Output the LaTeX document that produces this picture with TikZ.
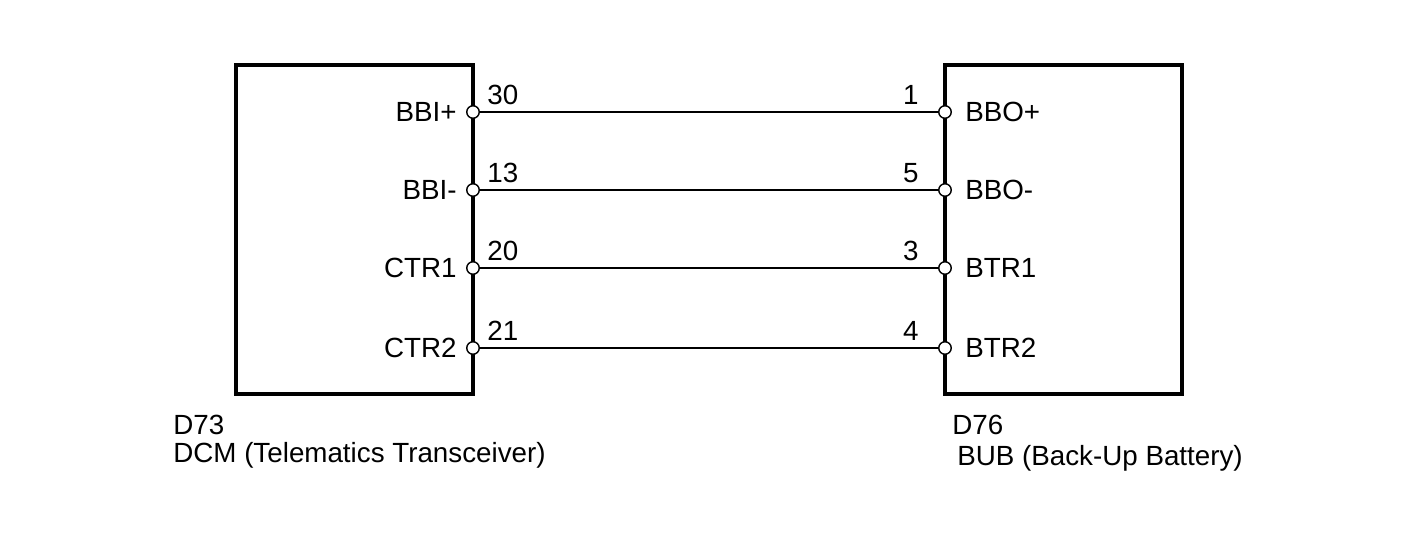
\documentclass[tikz,border=0pt]{standalone}
\usepackage{fontspec}
\setmainfont{Liberation Sans}
\usetikzlibrary{positioning}
\tikzset{
  ecu/.style={draw, line width=1.8pt, minimum width=4.74cm, minimum height=6.58cm, inner sep=0pt},
  pin/.style={circle, draw, fill=white, line width=0.8pt, minimum size=0.25cm, inner sep=0pt},
  txt/.style={font=\fontsize{15.8}{18}\selectfont, inner sep=0pt},
  wire/.style={line width=0.9pt}
}
\begin{document}
\begin{tikzpicture}[x=0.02cm,y=-0.02cm]
\useasboundingbox (0,0) rectangle (1424,558);

\node[ecu] (dcm) at (354.5,229.5) {};
\node[ecu] (bub) at (1063.5,229.5) {};

% pins
\node[pin] (l1) at (473,112) {};
\node[pin] (l2) at (473,190) {};
\node[pin] (l3) at (473,268) {};
\node[pin] (l4) at (473,348) {};
\node[pin] (r1) at (945,112) {};
\node[pin] (r2) at (945,190) {};
\node[pin] (r3) at (945,268) {};
\node[pin] (r4) at (945,348) {};

\draw[wire] (l1) -- (r1);
\draw[wire] (l2) -- (r2);
\draw[wire] (l3) -- (r3);
\draw[wire] (l4) -- (r4);

% pin names
\node[txt, anchor=east] at (457,112) {BBI+};
\node[txt, anchor=east] at (457,190) {BBI-};
\node[txt, anchor=east] at (457,268) {CTR1};
\node[txt, anchor=east] at (457,348) {CTR2};
\node[txt, anchor=west] at (965,112) {BBO+};
\node[txt, anchor=west] at (965,190) {BBO-};
\node[txt, anchor=west] at (965,268) {BTR1};
\node[txt, anchor=west] at (965,348) {BTR2};

% pin numbers
\node[txt, anchor=west] at (487,95) {30};
\node[txt, anchor=west] at (487,173) {13};
\node[txt, anchor=west] at (487,251) {20};
\node[txt, anchor=west] at (487,331) {21};
\node[txt, anchor=east] at (919,95) {1};
\node[txt, anchor=east] at (919,173) {5};
\node[txt, anchor=east] at (919,251) {3};
\node[txt, anchor=east] at (919,331) {4};

% connector names
\node[txt, anchor=west] at (173,425) {D73};
\node[txt, anchor=west] at (173,455) {DCM (Telematics Transceiver)};
\node[txt, anchor=west] at (952,425) {D76};
\node[txt, anchor=west] at (957,458) {BUB (Back-Up Battery)};
\end{tikzpicture}
\end{document}
